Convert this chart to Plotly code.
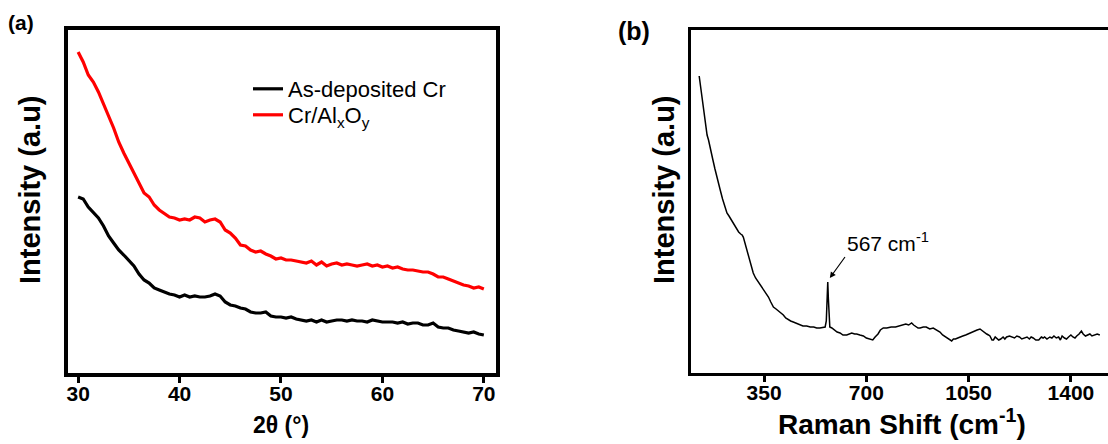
import plotly.graph_objects as go

# ---------------- data ----------------
xrd_2theta = [30, 30.5, 31, 31.5, 32, 32.5, 33, 33.5, 34, 34.5, 35, 35.5, 36, 36.5, 37, 37.5,
              38, 38.5, 39, 39.5, 40, 40.5, 41, 41.5, 42, 42.5, 43, 43.5, 44, 44.5, 45, 45.5,
              46, 46.5, 47, 47.5, 48, 48.5, 49, 49.5, 50, 50.5, 51, 51.5, 52, 52.5, 53, 53.5,
              54, 54.5, 55, 55.5, 56, 56.5, 57, 57.5, 58, 58.5, 59, 59.5, 60, 60.5, 61, 61.5,
              62, 62.5, 63, 63.5, 64, 64.5, 65, 65.5, 66, 66.5, 67, 67.5, 68, 68.5, 69, 69.5, 70]

xrd_cr_alxoy = [321, 311, 298, 291, 281, 268, 257, 245, 231, 220,
                210, 200, 189, 180, 176, 168, 163, 159, 156, 155,
                153, 154, 153, 156, 155, 151, 153, 154, 151, 143,
                140, 135, 128, 127, 123, 121, 122, 119, 117, 114,
                115, 113, 113, 112, 111, 110, 112, 108, 111, 107,
                109, 110, 108, 109, 108, 107, 108, 109, 107, 108,
                106, 107, 105, 106, 104, 103, 103, 102, 101, 101,
                99, 96, 96, 94, 92, 90, 88, 87, 85, 86, 84]

xrd_as_deposited = [176, 174, 166, 160, 155, 147, 137, 130, 123, 118,
                    113, 107, 99, 93, 90, 85, 83, 81, 79, 78,
                    76, 78, 76, 77, 76, 76, 77, 79, 77, 71,
                    68, 67, 65, 64, 61, 60, 60, 61, 57, 56,
                    56, 55, 56, 54, 53, 52, 53, 51, 53, 51,
                    52, 53, 53, 52, 53, 52, 52, 51, 53, 52,
                    51, 51, 51, 50, 51, 49, 50, 50, 48, 48,
                    50, 46, 45, 45, 43, 42, 41, 40, 41, 39, 38]

raman_shift = [128, 135, 140, 145, 150, 155, 160, 167, 175, 182,
               188, 194, 200, 208, 216, 223, 230, 238, 245, 251,
               257, 263, 270, 275, 279, 287, 295, 304, 313, 321,
               330, 339, 348, 356, 365, 373, 382, 391, 400, 408,
               416, 424, 433, 441, 450, 460, 470, 483, 496, 508,
               520, 530, 541, 552, 559, 563, 566, 568, 570, 572,
               575, 582, 590, 600, 610, 620, 633, 642, 650, 660,
               667, 678, 690, 700, 710, 716, 722, 730, 740, 748,
               758, 770, 785, 800, 815, 825, 835, 845, 855, 862,
               870, 877, 884, 895, 905, 917, 929, 940, 952, 961,
               970, 980, 986, 992, 998, 1005, 1013, 1020, 1030, 1040,
               1047, 1054, 1062, 1070, 1079, 1089, 1097, 1105, 1112, 1118,
               1123, 1130, 1135, 1141, 1146, 1153, 1160, 1168, 1174, 1180,
               1190, 1200, 1207, 1215, 1224, 1232, 1240, 1250, 1258, 1264,
               1271, 1280, 1290, 1299, 1305, 1310, 1318, 1328, 1335, 1342,
               1350, 1358, 1364, 1370, 1378, 1385, 1392, 1400, 1407, 1414,
               1420, 1428, 1436, 1442, 1450, 1457, 1465, 1472, 1480, 1490,
               1499]

raman_intensity = [297, 282, 268, 256, 245, 238, 233, 222, 213, 204,
                   196, 189, 183, 174, 165, 160, 157, 153, 150, 146,
                   143, 141, 139, 138, 136, 128, 119, 109, 100, 95,
                   91, 87, 83, 80, 76, 71, 66, 64, 62, 60,
                   58, 55, 53, 52, 51, 50, 49, 47, 47, 46,
                   46, 45, 45, 46, 46, 52, 80, 91, 75, 53,
                   46, 45, 43, 41, 40, 38, 38, 39, 40, 39,
                   39, 38, 37, 35, 34, 33, 33, 36, 39, 43,
                   45, 45, 46, 46, 47, 48, 49, 48, 50, 48,
                   46, 45, 45, 46, 46, 44, 45, 43, 41, 38,
                   36, 34, 33, 32, 34, 34, 35, 36, 37, 38,
                   39, 40, 41, 42, 43, 44, 42, 40, 39, 38,
                   37, 33, 33, 36, 35, 33, 34, 36, 34, 36,
                   37, 36, 35, 37, 36, 34, 35, 36, 34, 36,
                   35, 33, 33, 36, 35, 36, 34, 36, 35, 37,
                   35, 36, 33, 37, 35, 34, 36, 38, 36, 35,
                   37, 39, 42, 39, 37, 38, 39, 37, 38, 39,
                   38]

xrd_ticks = [30, 40, 50, 60, 70]
raman_ticks = [350, 700, 1050, 1400]
peak_label = "567 cm<sup>-1</sup>"
peak_pos = 575
peak_val = 95
peak_text_pos = 627
peak_text_val = 116

# ---------------- figure ----------------
W, H = 1108, 444
FONT = "Arial, Liberation Sans, sans-serif"

fig = go.Figure()
fig.add_trace(go.Scatter(x=xrd_2theta, y=xrd_as_deposited, mode="lines",
                         name="As-deposited Cr", line=dict(color="black", width=3.2),
                         xaxis="x", yaxis="y", legend="legend"))
fig.add_trace(go.Scatter(x=xrd_2theta, y=xrd_cr_alxoy, mode="lines",
                         name="Cr/Al<sub>x</sub>O<sub>y</sub>", line=dict(color="#ff0000", width=3.2),
                         xaxis="x", yaxis="y", legend="legend2"))
fig.add_trace(go.Scatter(x=raman_shift, y=raman_intensity, mode="lines",
                         name="Raman", showlegend=False,
                         line=dict(color="black", width=1.5),
                         xaxis="x2", yaxis="y2"))

axis_common = dict(showgrid=False, zeroline=False, showline=True, linecolor="black",
                   ticks="outside", ticklen=6, tickwidth=2.5, tickcolor="black",
                   ticklabelstandoff=-7,
                   tickfont=dict(family=FONT, size=21, color="black", weight="bold"),
                   automargin=False)

ydom = [71 / H, 414 / H]
legend_common = dict(xanchor="left", yanchor="top", bgcolor="rgba(0,0,0,0)", borderwidth=0,
                     font=dict(family=FONT, size=22, color="black"), itemwidth=30)

fig.update_layout(
    width=W, height=H,
    margin=dict(l=0, r=0, t=0, b=0),
    paper_bgcolor="white", plot_bgcolor="white",
    font=dict(family=FONT, color="black"),
    xaxis=dict(domain=[68 / W, 496 / W], range=[29.0, 71.2], tickvals=xrd_ticks,
               mirror=True, linewidth=3.5, anchor="y", **axis_common),
    yaxis=dict(domain=ydom, range=[0, 343], showticklabels=False, ticks="",
               showgrid=False, zeroline=False, showline=True, linecolor="black",
               linewidth=3.5, mirror=True, anchor="x", automargin=False),
    xaxis2=dict(domain=[691 / W, 1.0], range=[100, 1527], tickvals=raman_ticks,
                mirror=True, linewidth=3, anchor="y2", **axis_common),
    yaxis2=dict(domain=ydom, range=[0, 343], showticklabels=False, ticks="",
                showgrid=False, zeroline=False, showline=True, linecolor="black",
                linewidth=3, mirror=False, anchor="x2", automargin=False),
    legend=dict(x=248 / W, y=1 - 68 / H, **legend_common),
    legend2=dict(x=248 / W, y=1 - 94 / H, **legend_common),
    showlegend=True,
)

def title_ann(text, x, y, size, angle=0):
    fig.add_annotation(text=text, xref="paper", yref="paper", x=x / W, y=1 - y / H,
                       xanchor="center", yanchor="middle", showarrow=False,
                       textangle=angle,
                       font=dict(family=FONT, size=size, color="black", weight="bold"))

# axis titles
title_ann("Intensity (a.u)", 30, 190, 29, -90)
title_ann("Intensity (a.u)", 664, 190, 29, -90)
title_ann("2θ (°)", 281, 425, 23)
title_ann("Raman Shift (cm<sup>-1</sup>)", 902, 422, 28)

# panel labels
fig.add_annotation(text="(a)", xref="paper", yref="paper", x=6 / W, y=1 - 22 / H,
                   xanchor="left", yanchor="middle", showarrow=False,
                   font=dict(family=FONT, size=21, color="black", weight="bold"))
fig.add_annotation(text="(b)", xref="paper", yref="paper", x=616 / W, y=1 - 31 / H,
                   xanchor="left", yanchor="middle", showarrow=False,
                   font=dict(family=FONT, size=25, color="black", weight="bold"))

# peak annotation
fig.add_annotation(text=peak_label, x=peak_pos, y=peak_val, xref="x2", yref="y2",
                   ax=peak_text_pos, ay=peak_text_val, axref="x2", ayref="y2",
                   xanchor="left", yanchor="bottom",
                   showarrow=True, arrowhead=2, arrowsize=1, arrowwidth=1.2, arrowcolor="black",
                   font=dict(family=FONT, size=21, color="black"))

fig.write_html("out.html")
